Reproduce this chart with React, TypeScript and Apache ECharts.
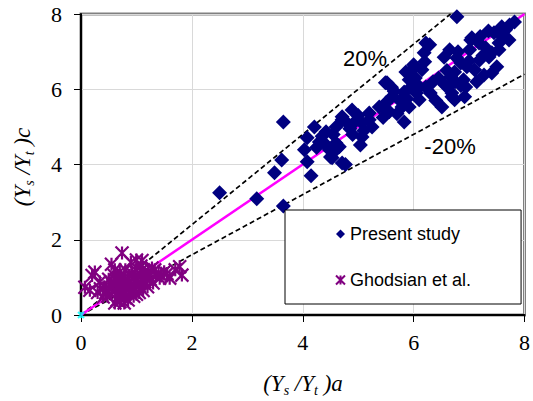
import React, { useEffect, useRef } from "react";
import * as echarts from "echarts";

const axisTicks = [0, 2, 4, 6, 8];

const presentStudy: number[][] = [
  [2.5, 3.25], [3.17, 3.09], [3.65, 2.9], [3.49, 3.78], [3.62, 4.12], [3.65, 5.13],
  [4.03, 4.39], [4.08, 4.71], [4.08, 4.07], [4.15, 3.7], [4.21, 5.0], [4.42, 4.87], [4.6, 4.57],
  [4.53, 4.18], [4.5, 4.2], [4.66, 4.47], [4.77, 4.0], [4.3, 4.6], [4.35, 4.75], [4.48, 4.39],
  [4.6, 5.0], [4.71, 5.19], [4.71, 5.27], [4.89, 5.45], [5.04, 4.52], [5.07, 4.73], [5.07, 5.1],
  [4.95, 5.15], [5.2, 5.19], [5.2, 5.37], [5.25, 5.0], [4.85, 4.95], [4.8, 5.1], [5.0, 5.3],
  [4.71, 4.04], [4.6, 4.39], [4.9, 4.8], [5.1, 4.9], [4.25, 4.45], [4.4, 4.55], [4.55, 4.8],
  [5.38, 5.53], [5.5, 5.64], [5.52, 5.45], [5.56, 5.4], [5.49, 6.17], [5.52, 6.17], [5.61, 5.8],
  [5.79, 5.53], [5.83, 5.13], [5.83, 5.93], [5.86, 6.46], [5.92, 6.25], [5.92, 5.53], [5.97, 6.52],
  [6.0, 6.65], [6.03, 6.3], [6.1, 5.72], [6.11, 6.06], [5.7, 5.35], [5.75, 5.7], [5.65, 5.95],
  [5.45, 5.25], [5.6, 6.05], [5.95, 6.05], [6.05, 5.9], [5.88, 5.75],
  [6.2, 6.73], [6.29, 7.18], [6.22, 7.23], [6.19, 6.97], [6.78, 7.93],
  [6.15, 6.52], [6.22, 6.06], [6.51, 5.53], [6.56, 6.12], [6.69, 5.9], [6.69, 5.8], [6.67, 6.33],
  [6.74, 6.46], [6.78, 6.83], [6.74, 5.72], [6.9, 6.25], [6.92, 5.8], [6.94, 6.06], [6.96, 6.6],
  [6.8, 7.0], [6.85, 6.7], [6.6, 6.5], [6.45, 6.3], [6.35, 6.2], [6.3, 5.9], [6.4, 5.7],
  [6.62, 6.05], [6.85, 6.1], [6.75, 6.2], [6.55, 6.85], [6.65, 7.05],
  [7.01, 7.05], [7.05, 7.37], [7.03, 7.31], [7.18, 7.23], [7.19, 6.78], [7.1, 6.52], [7.14, 6.2],
  [7.27, 6.38], [7.36, 6.86], [7.41, 6.97], [7.41, 6.43], [7.45, 7.5], [7.5, 6.6], [7.54, 7.23],
  [7.54, 7.05], [7.59, 7.66], [7.66, 7.58], [7.72, 7.31], [7.73, 7.71], [7.82, 7.79], [7.3, 7.1],
  [7.25, 6.9], [7.6, 7.4], [7.0, 6.75], [7.2, 7.4], [7.35, 7.55],
];

const ghodsian: number[][] = [
  [0.74, 1.65], [0.25, 1.14], [0.07, 0.74], [0.61, 1.2], [1.78, 1.28], [1.82, 1.06], [1.6, 0.98],
  [1.42, 0.98], [1.33, 1.2], [0.34, 0.88], [0.16, 0.66], [0.61, 0.32], [0.4, 0.48], [1.0, 1.46],
  [1.1, 1.45], [0.2, 1.05], [1.5, 1.15], [1.7, 1.2], [0.9, 1.4], [0.55, 1.35],
  [0.45, 0.6], [0.5, 0.72], [0.55, 0.55], [0.58, 0.8], [0.62, 0.65], [0.65, 0.9], [0.68, 0.5],
  [0.7, 0.75], [0.72, 1.0], [0.75, 0.62], [0.78, 0.85], [0.8, 0.45], [0.82, 0.7], [0.85, 0.95],
  [0.88, 0.6], [0.9, 0.8], [0.92, 1.1], [0.95, 0.7], [0.98, 0.9], [1.0, 0.55], [1.02, 1.05],
  [1.05, 0.78], [1.08, 0.95], [1.1, 1.2], [1.12, 0.65], [1.15, 0.88], [1.18, 1.05], [1.2, 0.75],
  [1.22, 1.15], [1.25, 0.95], [1.28, 1.25], [1.3, 0.85], [1.35, 1.05], [0.5, 0.95], [0.6, 1.05],
  [0.7, 1.15], [0.8, 1.2], [0.85, 0.4], [0.95, 0.5], [1.05, 0.6], [0.65, 0.4], [0.55, 0.85],
  [0.75, 0.95], [0.88, 1.05], [0.98, 1.2], [1.08, 1.3], [0.42, 0.75], [0.48, 0.5], [1.15, 1.0],
  [1.4, 1.1], [0.72, 0.55], [0.82, 0.6], [0.92, 0.65], [1.02, 0.85], [0.66, 0.72], [0.76, 0.78],
  [0.86, 0.85], [0.96, 1.0], [1.12, 1.12], [0.3, 0.6], [0.35, 0.7], [1.45, 1.05], [1.55, 1.1],
  [0.78, 0.32], [0.7, 0.35],
];

const origin: number[][] = [[0, 0]];
const equalityLine: number[][] = [[0, 0], [8, 8]];
const plus20Line: number[][] = [[0, 0], [8 / 1.2, 8]];
const minus20Line: number[][] = [[0, 0], [8, 6.4]];

const ASTER = "path://M0,0L10,10M10,0L0,10M5,0L5,10";

export default function App() {
  const ref = useRef<HTMLDivElement>(null);
  useEffect(() => {
    if (!ref.current) return;
    const chart = echarts.init(ref.current, null, { renderer: "svg" });
    const serif = "Liberation Serif";
    const sans = "Liberation Sans";
    const mkAxis = (margin: number) => ({
      type: "value" as const,
      min: 0,
      max: 8,
      interval: 2,
      axisLine: { show: true, onZero: false, lineStyle: { color: "#000", width: 2 } },
      axisTick: { show: true, inside: false, length: 7, lineStyle: { color: "#000", width: 1 } },
      splitLine: { show: true, lineStyle: { color: "#d9d9d9", width: 1 } },
      axisLabel: {
        show: true,
        margin,
        fontFamily: serif,
        fontSize: 22,
        color: "#000",
        formatter: (v: number) => (axisTicks.includes(v) ? String(v) : ""),
      },
    });
    const richTitle = {
      a: { fontFamily: serif, fontStyle: "italic", fontSize: 23, lineHeight: 28, fill: "#000" },
      s: { fontFamily: serif, fontStyle: "italic", fontSize: 14, verticalAlign: "bottom", fill: "#000" },
    };
    chart.setOption({
      animation: false,
      backgroundColor: "#fff",
      textStyle: { fontFamily: serif },
      grid: {
        left: 81,
        right: 7,
        top: 14,
        bottom: 86,
        show: true,
        borderColor: "#808080",
        borderWidth: 3,
        backgroundColor: "#fff",
      },
      xAxis: mkAxis(16),
      yAxis: mkAxis(19),
      legend: {
        orient: "vertical",
        left: 285,
        top: 210,
        data: ["Present study", "Ghodsian et al."],
        backgroundColor: "#fff",
        borderColor: "#000",
        borderWidth: 1,
        borderRadius: 0,
        padding: [15, 50, 15, 50],
        itemGap: 28,
        itemWidth: 9,
        itemHeight: 9,
        textStyle: { fontFamily: sans, fontSize: 18, color: "#000" },
        z: 5,
      },
      graphic: [
        {
          type: "text",
          x: 22,
          y: 167,
          rotation: Math.PI / 2,
          style: {
            text: "{a|(Y}{s|s}{a| /Y}{s|t}{a| )c}",
            rich: richTitle,
            align: "center",
            verticalAlign: "middle",
          },
        },
        {
          type: "text",
          x: 303,
          y: 383,
          style: {
            text: "{a|(Y}{s|s}{a| /Y}{s|t}{a| )a}",
            rich: richTitle,
            align: "center",
            verticalAlign: "middle",
          },
        },
        {
          type: "text",
          x: 365,
          y: 58,
          style: { text: "20%", fontFamily: sans, fontSize: 22, fill: "#000", align: "center", verticalAlign: "middle" },
          z: 10,
        },
        {
          type: "text",
          x: 450,
          y: 146,
          style: { text: "-20%", fontFamily: sans, fontSize: 22, fill: "#000", align: "center", verticalAlign: "middle" },
          z: 10,
        },
      ],
      series: [
        {
          name: "+20%",
          type: "line",
          data: plus20Line,
          symbol: "none",
          lineStyle: { color: "#000", width: 1.7, type: [5, 3] },
          z: 1,
        },
        {
          name: "-20%",
          type: "line",
          data: minus20Line,
          symbol: "none",
          lineStyle: { color: "#000", width: 1.7, type: [5, 3] },
          z: 1,
        },
        {
          name: "Line of equality",
          type: "line",
          data: equalityLine,
          symbol: "none",
          lineStyle: { color: "#ff00ff", width: 2.5 },
          z: 1,
        },
        {
          name: "Present study",
          type: "scatter",
          data: presentStudy,
          symbol: "diamond",
          symbolSize: 15,
          itemStyle: { color: "#000080", opacity: 1 },
          z: 3,
        },
        {
          name: "Ghodsian et al.",
          type: "scatter",
          data: ghodsian,
          symbol: ASTER,
          symbolSize: 13,
          itemStyle: { color: "#800080", borderColor: "#800080", borderWidth: 2.2, opacity: 1 },
          z: 3,
        },
        {
          name: "origin",
          type: "scatter",
          data: origin,
          symbol: ASTER,
          symbolSize: 6,
          clip: false,
          itemStyle: { color: "#ffff00", borderColor: "#00ffff", borderWidth: 2 },
          z: 4,
        },
      ],
    });
    return () => chart.dispose();
  }, []);
  return <div ref={ref} style={{ width: 533, height: 401, position: "absolute", left: 0, top: 0 }} />;
}
